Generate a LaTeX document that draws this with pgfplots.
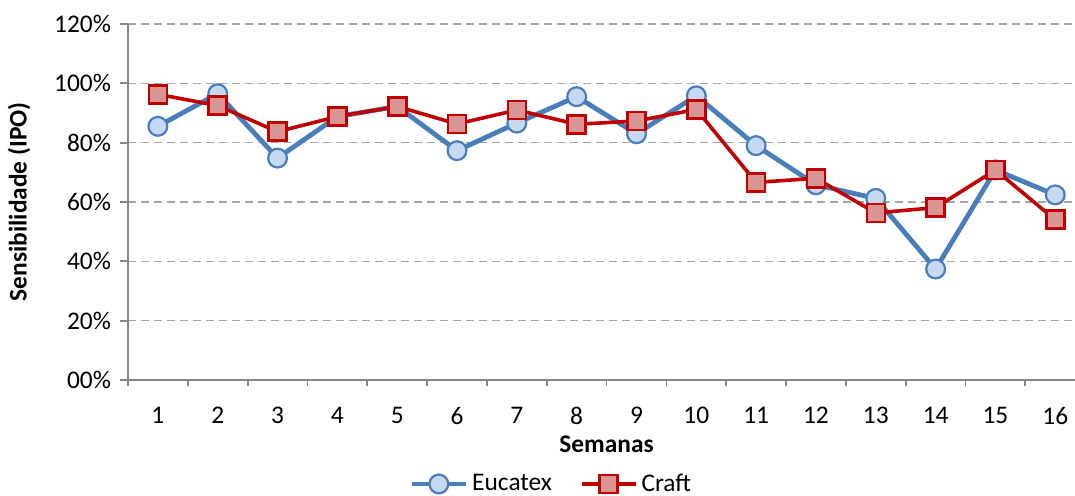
\documentclass[border=0pt]{standalone}
\usepackage{pgfplots}
\pgfplotsset{compat=1.18}
\usepackage{fontspec}
\setmainfont{Carlito}
\definecolor{eucline}{HTML}{4A7EBB}
\definecolor{eucfill}{HTML}{C6D9F1}
\definecolor{crline}{HTML}{C00000}
\definecolor{crfill}{HTML}{D99594}
\definecolor{axgray}{HTML}{868686}
\definecolor{gridgray}{HTML}{A6A6A6}
\begin{document}
\begin{tikzpicture}
\begin{axis}[
    scale only axis,
    width=473.5pt, height=178pt,
    xmin=0.5, xmax=16.33,
    ymin=0, ymax=120,
    axis lines*=left,
    axis line style={draw=axgray, line width=0.9pt},
    xtick={1,...,16},
    minor xtick={0.5,1.5,...,15.5},
    major x tick style={draw=none},
    minor x tick style={draw=axgray, line width=0.9pt},
    minor tick length=3pt,
    ytick={0,20,...,120},
    yticklabels={00\%,20\%,40\%,60\%,80\%,100\%,120\%},
    y tick style={draw=axgray, line width=0.9pt},
    major tick length=4pt,
    tick align=outside,
    ymajorgrids,
    major grid style={draw=gridgray, line width=0.7pt, dash pattern=on 4pt off 2.5pt},
    /pgf/number format/assume math mode=true,
    tick label style={font=\fontsize{12.7}{14}\selectfont, text=black},
    yticklabel style={xshift=-1pt},
    xticklabel style={yshift=-6pt},
    xlabel={Semanas},
    ylabel={Sensibilidade (IPO)},
    label style={font=\fontsize{12.7}{14}\selectfont\bfseries},
    xlabel style={at={(axis description cs:0.5053,-0.18)}, anchor=center},
    ylabel style={yshift=5pt},
    legend style={
        at={(axis description cs:0.448,-0.292)}, anchor=center,
        draw=none, fill=none,
        legend columns=2,
        font=\fontsize{12.7}{14}\selectfont,
        /tikz/every even column/.append style={column sep=12pt},
    },
    legend cell align=left,
    legend image code/.code={
        \draw[mark repeat=2,mark phase=2] plot coordinates {(0pt,0pt) (13.5pt,0pt) (27pt,0pt)};
    },
    clip=false,
]
\addplot[color=eucline, line width=2.4pt, mark=*, mark size=4.7pt,
    mark options={fill=eucfill, draw=eucline, line width=1.1pt}] coordinates {
    (1,85.5) (2,96.5) (3,74.8) (4,88.8) (5,92.2) (6,77.3) (7,86.6) (8,95.5)
    (9,83.0) (10,95.8) (11,79.0) (12,65.8) (13,61.2) (14,37.4) (15,70.8) (16,62.4)
};
\addlegendentry{Eucatex}
\addplot[color=crline, line width=1.8pt, mark=square*, mark size=4.5pt,
    mark options={fill=crfill, draw=crline, line width=1.3pt}] coordinates {
    (1,96.3) (2,92.5) (3,83.7) (4,88.8) (5,92.2) (6,86.3) (7,91.0) (8,86.2)
    (9,87.3) (10,91.2) (11,66.6) (12,68.0) (13,56.3) (14,58.1) (15,70.8) (16,54.0)
};
\addlegendentry{Craft}
\end{axis}
\pgfresetboundingbox
\useasboundingbox (-64pt,-58pt) rectangle (473.5pt,190pt);
\end{tikzpicture}
\end{document}
